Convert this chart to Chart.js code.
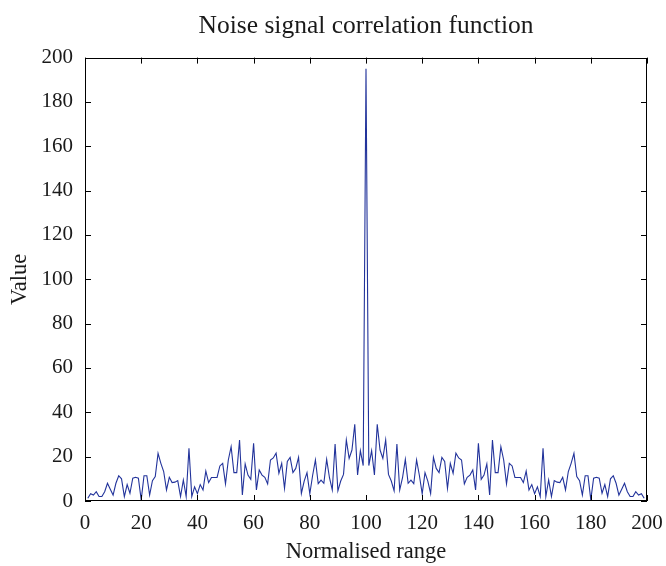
<!DOCTYPE html>
<html>
<head>
<meta charset="utf-8">
<title>Noise signal correlation function</title>
<script src="https://cdn.jsdelivr.net/npm/chart.js@4.4.1/dist/chart.umd.min.js"></script>
<style>
  html, body { margin: 0; padding: 0; background: #fff; }
  canvas { display: block; }
</style>
</head>
<body>
<canvas id="chart" width="666" height="566"></canvas>
<script>
// correlation values, x = 1..199 (peak at 100)
var corrValues = [
    1.2, 3.3, 2.7, 4.2, 2, 2, 4.2, 8, 5.3, 2.7,
    8, 11.4, 10, 2, 7.4, 3.5, 10.3, 10.7, 10.3, 0.5,
    11.4, 11.4, 2.7, 9.2, 11, 21.5, 17, 13.3, 5, 10.7,
    8.3, 8.5, 9.2, 2, 9.5, 2, 23.8, 2, 6.4, 3.3,
    7.4, 5, 13.5, 8.3, 10.6, 10.6, 10.6, 15.8, 17, 7.7,
    18.5, 24.5, 12.8, 12.8, 27.5, 2.7, 16.7, 11.7, 9.8, 26,
    5, 14, 11.7, 10.7, 7.7, 18.5, 19.4, 21.6, 12.5, 17,
    5.7, 17.8, 19.7, 12.8, 14.7, 19.7, 3.4, 9, 12.8, 3.2,
    11.5, 18.5, 7.8, 9.4, 8, 18.8, 10.5, 5, 25.7, 4.6,
    9, 12, 27.5, 19.2, 23, 34.6, 11.7, 22.7, 16,
    195,
    16, 22.7, 11.7, 34.6, 23, 19.2, 27.5, 12, 9, 4.6,
    25.7, 5, 10.5, 18.8, 8, 9.4, 7.8, 18.5, 11.5, 3.2,
    12.8, 9, 3.4, 19.7, 14.7, 12.8, 19.7, 17.8, 5.7, 17,
    12.5, 21.6, 19.4, 18.5, 7.7, 10.7, 11.7, 14, 5, 26,
    9.8, 11.7, 16.7, 2.7, 27.5, 12.8, 12.8, 24.5, 18.5, 7.7,
    17, 15.8, 10.6, 10.6, 10.6, 8.3, 13.5, 5, 7.4, 3.3,
    6.4, 2, 23.8, 2, 9.5, 2, 9.2, 8.5, 8.3, 10.7,
    5, 13.3, 17, 21.5, 11, 9.2, 2.7, 11.4, 11.4, 0.5,
    10.3, 10.7, 10.3, 3.5, 7.4, 2, 10, 11.4, 8, 2.7,
    5.3, 8, 4.2, 2, 2, 4.2, 2.7, 3.3, 1.2
];
var xStart = 1;
var xTicks = [0, 20, 40, 60, 80, 100, 120, 140, 160, 180, 200];
var yTicks = [0, 20, 40, 60, 80, 100, 120, 140, 160, 180, 200];

var titleText = "Noise signal correlation function";
var xLabel = "Normalised range";
var yLabel = "Value";

function toPoints(values, start) {
    var output = [];
    for (var i = 0; i < values.length; ++i)
        output.push({ x: start + i, y: values[i] });
    return output;
}

var serif = "'Liberation Serif', 'Times New Roman', serif";
var textColor = "#1a1a1a";

// matlab style box with inward ticks on all four sides
var boxTicks = {
    id: "boxTicks",
    afterDraw: function (chart) {
        var ctx = chart.ctx, a = chart.chartArea;
        var xs = chart.scales.x, ys = chart.scales.y;
        var len = 6;
        ctx.save();
        ctx.strokeStyle = "#000";
        ctx.lineWidth = 1;
        ctx.beginPath();
        xs.ticks.forEach(function (t) {
            var px = Math.round(xs.getPixelForValue(t.value)) + 0.5;
            ctx.moveTo(px, a.bottom); ctx.lineTo(px, a.bottom - len);
            ctx.moveTo(px, a.top); ctx.lineTo(px, a.top + len);
        });
        ys.ticks.forEach(function (t) {
            var py = Math.round(ys.getPixelForValue(t.value)) + 0.5;
            ctx.moveTo(a.left, py); ctx.lineTo(a.left + len, py);
            ctx.moveTo(a.right, py); ctx.lineTo(a.right - len, py);
        });
        ctx.stroke();
        ctx.strokeRect(Math.round(a.left) + 0.5, Math.round(a.top) + 0.5,
            Math.round(a.right - a.left) - 1, Math.round(a.bottom - a.top) - 1);
        ctx.restore();
    }
};

new Chart(document.getElementById("chart"), {
    type: "line",
    data: {
        datasets: [{
            data: toPoints(corrValues, xStart),
            borderColor: "#22339b",
            borderWidth: 1.1,
            pointRadius: 0,
            tension: 0,
            fill: false
        }]
    },
    options: {
        responsive: false,
        animation: false,
        layout: { padding: { left: 0, right: 19, top: 0, bottom: 0 } },
        plugins: {
            legend: { display: false },
            tooltip: { enabled: false },
            title: {
                display: true,
                text: titleText,
                fullSize: false,
                color: textColor,
                font: { family: serif, size: 25.5, weight: "normal" },
                padding: { top: 11, bottom: 16 }
            }
        },
        scales: {
            x: {
                type: "linear",
                min: 0,
                max: 200,
                afterBuildTicks: function (scale) {
                    scale.ticks = xTicks.map(function (v) { return { value: v }; });
                },
                afterFit: function (scale) { scale.height = 65; },
                grid: { display: false },
                border: { display: false },
                ticks: {
                    color: textColor,
                    padding: 2,
                    maxRotation: 0,
                    font: { family: serif, size: 21 }
                },
                title: {
                    display: true,
                    text: xLabel,
                    color: textColor,
                    font: { family: serif, size: 22.5 },
                    padding: { top: 0, bottom: 0 }
                }
            },
            y: {
                type: "linear",
                min: 0,
                max: 200,
                afterBuildTicks: function (scale) {
                    scale.ticks = yTicks.map(function (v) { return { value: v }; });
                },
                afterFit: function (scale) { scale.width = 85; },
                grid: { display: false },
                border: { display: false },
                ticks: {
                    color: textColor,
                    padding: 4,
                    font: { family: serif, size: 21 }
                },
                title: {
                    display: true,
                    text: yLabel,
                    color: textColor,
                    font: { family: serif, size: 22.5 },
                    padding: { top: 7, bottom: 0 }
                }
            }
        }
    },
    plugins: [boxTicks]
});
</script>
</body>
</html>
